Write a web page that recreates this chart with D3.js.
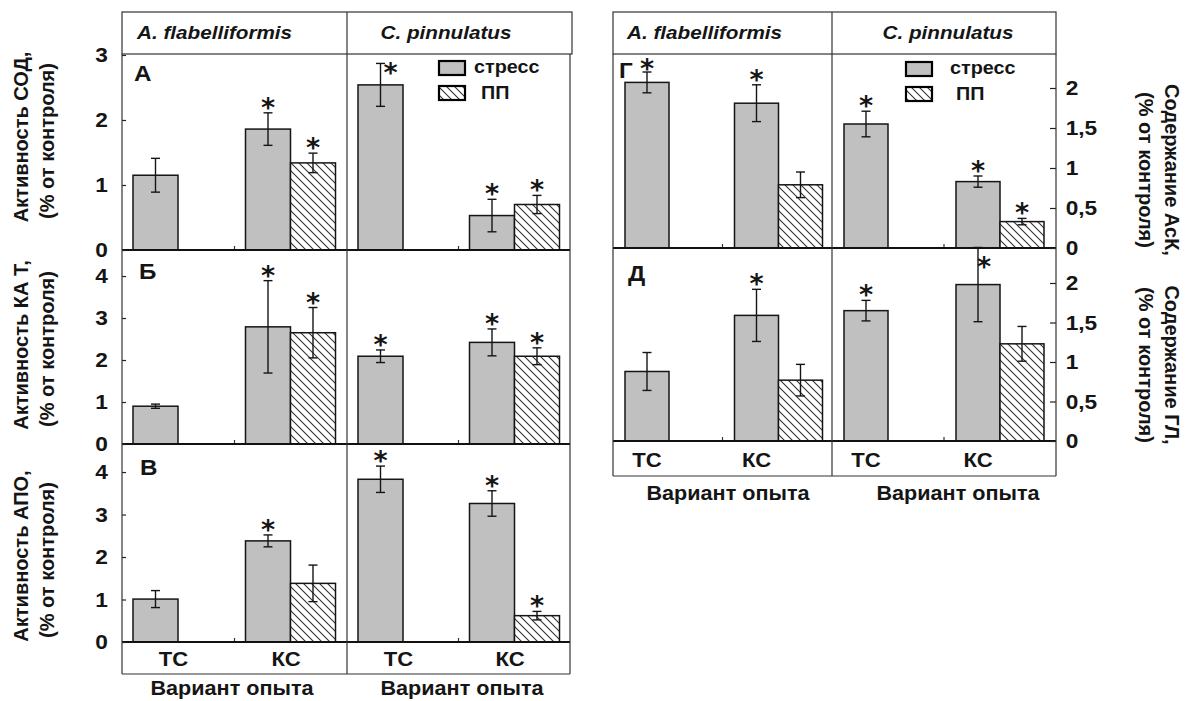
<!DOCTYPE html>
<html><head><meta charset="utf-8">
<script src="https://cdn.jsdelivr.net/npm/d3@7"></script>
<style>body{margin:0;background:#fff} svg{display:block}</style>
</head><body><svg id="c" width="1188" height="701"></svg>
<script>
// ---------------- DATA ----------------
const catLabels = ["ТС", "КС"];
const speciesNames = ["A. flabelliformis", "C. pinnulatus"];
const seriesNames = ["стресс", "ПП"];
const xTitle = "Вариант опыта";
// order of values: [A.fl ТС, A.fl КС, C.pin ТС, C.pin КС]
const sodStress = [1.15, 1.86, 2.54, 0.53];
const sodStressErr = [0.26, 0.25, 0.33, 0.25];
const sodPP = [null, 1.34, null, 0.70];
const sodPPErr = [null, 0.15, null, 0.14];
const sodStressStar = [false, true, true, true];
const sodPPStar = [false, true, false, true];

const catStress = [0.90, 2.79, 2.09, 2.42];
const catStressErr = [0.05, 1.10, 0.15, 0.32];
const catPP = [null, 2.65, null, 2.09];
const catPPErr = [null, 0.60, null, 0.20];
const catStressStar = [false, true, true, true];
const catPPStar = [false, true, false, true];

const apoStress = [1.01, 2.38, 3.83, 3.26];
const apoStressErr = [0.20, 0.14, 0.31, 0.30];
const apoPP = [null, 1.38, null, 0.62];
const apoPPErr = [null, 0.43, null, 0.10];
const apoStressStar = [false, true, true, true];
const apoPPStar = [false, false, false, true];

const askStress = [2.07, 1.81, 1.55, 0.83];
const askStressErr = [0.13, 0.23, 0.16, 0.07];
const askPP = [null, 0.79, null, 0.33];
const askPPErr = [null, 0.16, null, 0.04];
const askStressStar = [true, true, true, true];
const askPPStar = [false, false, false, true];

const glStress = [0.88, 1.59, 1.65, 1.98];
const glStressErr = [0.24, 0.33, 0.13, 0.47];
const glPP = [null, 0.77, null, 1.23];
const glPPErr = [null, 0.20, null, 0.22];
const glStressStar = [false, true, true, true];
const glPPStar = [false, false, false, false];

const ticksSOD = [0, 1, 2, 3];
const ticksCAT = [0, 1, 2, 3, 4];
const ticksAPO = [0, 1, 2, 3, 4];
const ticksRight = [0, 0.5, 1, 1.5, 2];

const titleSOD = ["Активность СОД,", "(% от контроля)"];
const titleCAT = ["Активность КА Т,", "(% от контроля)"];
const titleAPO = ["Активность АПО,", "(% от контроля)"];
const titleASK = ["Содержание АсК,", "(% от контроля)"];
const titleGL = ["Содержание ГЛ,", "(% от контроля)"];
const panelLetters = ["А", "Б", "В", "Г", "Д"];

// ---------------- LAYOUT ----------------
const FONT = "'Liberation Sans', Arial, sans-serif";
const BAR = "#c0c0c0";
const INK = "#151515";

const blocks = [
  {x0:122, xm:347, x1:570, hx1:572, top:12, hdr:54, catTop:642, catBot:674, xTitleY:695,
   inner:[11,101], labelOff:18, sp:[{x:137,a:"start"},{x:446,a:"middle"}], xTitleX:[232,462],
   side:"left"},
  {x0:613, xm:832, x1:1056, hx1:1056, top:12, hdr:54, catTop:441, catBot:476, xTitleY:500,
   inner:[12,100], labelOff:0, sp:[{x:627,a:"start"},{x:948,a:"middle"}], xTitleX:[728,958],
   side:"right"}
];

const panels = [
  {b:0, top:54, bottom:250, max:3.015, ticks:ticksSOD, s:sodStress, se:sodStressErr, p:sodPP, pe:sodPPErr,
   ss:sodStressStar, ps:sodPPStar, title:titleSOD, titleY:137, lx:134, ly:81,
   legend:{x:439, y:61, t1:35, t2:42}, starShift:{2:[10,15]}},
  {b:0, top:250, bottom:444, max:4.62, ticks:ticksCAT, s:catStress, se:catStressErr, p:catPP, pe:catPPErr,
   ss:catStressStar, ps:catPPStar, title:titleCAT, titleY:345, lx:139, ly:279},
  {b:0, top:444, bottom:642, max:4.66, ticks:ticksAPO, s:apoStress, se:apoStressErr, p:apoPP, pe:apoPPErr,
   ss:apoStressStar, ps:apoPPStar, title:titleAPO, titleY:556, lx:140, ly:475},
  {b:1, top:54, bottom:248, max:2.425, ticks:ticksRight, s:askStress, se:askStressErr, p:askPP, pe:askPPErr,
   ss:askStressStar, ps:askPPStar, title:titleASK, titleY:170, lx:619, ly:78,
   legend:{x:906, y:62, t1:44, t2:50}, starShift:{0:[0,2]}},
  {b:1, top:248, bottom:441, max:2.443, ticks:ticksRight, s:glStress, se:glStressErr, p:glPP, pe:glPPErr,
   ss:glStressStar, ps:glPPStar, title:titleGL, titleY:365, lx:628, ly:281, starShift:{3:[6,25]}}
];

// ---------------- DRAW ----------------
const svg = d3.select("#c");
const defs = svg.append("defs");
const pat = defs.append("pattern").attr("id","hatch").attr("patternUnits","userSpaceOnUse")
  .attr("width",8).attr("height",8);
pat.append("rect").attr("width",8).attr("height",8).attr("fill","#fff");
pat.append("path").attr("d","M-2,-2L10,10M-2,6L2,10M6,-2L10,2").attr("stroke","#333").attr("stroke-width",1.1);

function T(sel, x, y, str, o = {}) {
  const sx = o.sx || 1;
  return sel.append("text")
    .attr("transform", `translate(${x},${y})` + (o.rot ? ` rotate(${o.rot})` : "") + (sx !== 1 ? ` scale(${sx},1)` : ""))
    .attr("text-anchor", o.anchor || "start")
    .attr("font-size", o.fs || 18)
    .attr("font-style", o.italic ? "italic" : "normal")
    .attr("font-family", o.ff || FONT)
    .attr("font-weight", "bold")
    .attr("fill", INK)
    .text(str);
}
function L(x1, y1, x2, y2, w = 1.2, c = "#333") {
  svg.append("line").attr("x1",x1).attr("y1",y1).attr("x2",x2).attr("y2",y2)
    .attr("stroke",c).attr("stroke-width",w);
}

const gBars = svg.append("g");

panels.forEach((P, pi) => {
  const B = blocks[P.b];
  const y = d3.scaleLinear().domain([0, P.max]).range([P.bottom, P.top]);
  const inner = d3.scaleBand().domain(seriesNames).range(B.inner).padding(0);
  const bw = inner.bandwidth();
  const subs = [[B.x0, B.xm], [B.xm, B.x1]];
  subs.forEach((r, si) => {
    const xg = d3.scaleBand().domain(catLabels).range(r);
    L(xg("КС"), P.bottom - 4, xg("КС"), P.bottom, 1.2, "#333");
    catLabels.forEach((c, ci) => {
      const idx = si * 2 + ci;
      [[P.s, P.se, P.ss, 0], [P.p, P.pe, P.ps, 1]].forEach(([vals, errs, stars, k]) => {
        const v = vals[idx];
        if (v == null) return;
        const x = xg(c) + inner(seriesNames[k]);
        gBars.append("rect").attr("x", x).attr("y", y(v)).attr("width", bw).attr("height", y(0) - y(v))
          .attr("fill", k === 0 ? BAR : "url(#hatch)").attr("stroke", INK).attr("stroke-width", 1.5);
        const cx = x + bw / 2, e = errs[idx];
        const yt = y(v + e), yb = y(v - e);
        gBars.append("line").attr("x1",cx).attr("x2",cx).attr("y1",yt).attr("y2",yb).attr("stroke",INK).attr("stroke-width",1.4);
        [yt, yb].forEach(yy => gBars.append("line").attr("x1",cx-4.5).attr("x2",cx+4.5).attr("y1",yy).attr("y2",yy)
          .attr("stroke",INK).attr("stroke-width",1.4));
        if (stars[idx]) {
          let sh = [0, 0];
          if (k === 0 && P.starShift && P.starShift[idx]) sh = P.starShift[idx];
          const cy = yt - 10 + sh[1];
          T(gBars, cx + sh[0], cy + 14, "*", {anchor:"middle", fs:27, ff:"'DejaVu Sans', sans-serif"});
        }
      });
    });
  });
  L(B.x0, P.bottom, B.x1, P.bottom, 2.2, "#111");
  const ax = B.side === "left"
    ? d3.axisLeft(y).tickValues(P.ticks).tickSize(-4).tickSizeOuter(0).tickPadding(13).tickFormat(d => String(d))
    : d3.axisRight(y).tickValues(P.ticks).tickSize(-6).tickSizeOuter(0).tickPadding(9)
        .tickFormat(d => String(d).replace(".", ","));
  const ga = svg.append("g").attr("transform", `translate(${B.side === "left" ? B.x0 : B.x1},0)`).call(ax);
  ga.select(".domain").remove();
  ga.selectAll(".tick line").attr("stroke", "#222").attr("stroke-width", 1.2);
  ga.selectAll(".tick text").attr("font-family", FONT).attr("font-weight", "bold").attr("font-size", 21)
    .attr("fill", INK).attr("transform", "scale(1.08,1)");
  T(svg, P.lx, P.ly, panelLetters[pi], {fs:22, sx:1.1});
  if (B.side === "left") {
    T(svg, 28, P.titleY, P.title[0], {rot:-90, anchor:"middle", fs:20});
    T(svg, 54, P.titleY + 4, P.title[1], {rot:-90, anchor:"middle", fs:20});
  } else {
    T(svg, 1165, P.titleY, P.title[0], {rot:90, anchor:"middle", fs:20});
    T(svg, 1139, P.titleY, P.title[1], {rot:90, anchor:"middle", fs:20});
  }
  if (P.legend) {
    const lg = P.legend;
    svg.append("rect").attr("x", lg.x).attr("y", lg.y).attr("width", 26).attr("height", 14)
      .attr("fill", BAR).attr("stroke", "#000").attr("stroke-width", 2.2);
    svg.append("rect").attr("x", lg.x).attr("y", lg.y + 25).attr("width", 26).attr("height", 14)
      .attr("fill", "url(#hatch)").attr("stroke", "#000").attr("stroke-width", 2.2);
    T(svg, lg.x + lg.t1, lg.y + 12, seriesNames[0], {fs:18, sx:1.1});
    T(svg, lg.x + lg.t2, lg.y + 38, seriesNames[1], {fs:18, sx:1.1});
  }
});

blocks.forEach((B) => {
  svg.append("rect").attr("x", B.x0).attr("y", B.top).attr("width", B.hx1 - B.x0).attr("height", B.hdr - B.top)
    .attr("fill", "none").attr("stroke", "#333").attr("stroke-width", 1.2);
  speciesNames.forEach((s, si) => {
    T(svg, B.sp[si].x, B.top + 27, s, {italic:true, fs:18, sx:1.15, anchor:B.sp[si].a});
  });
  L(B.x0, B.hdr, B.x0, B.catBot);
  L(B.x1, B.hdr, B.x1, B.catBot);
  L(B.xm, B.top, B.xm, B.catBot);
  L(B.x0, B.catBot, B.x1, B.catBot);
  const inner = d3.scaleBand().domain(seriesNames).range(B.inner).padding(0);
  [[B.x0, B.xm], [B.xm, B.x1]].forEach((r, si) => {
    const xg = d3.scaleBand().domain(catLabels).range(r);
    catLabels.forEach(c => {
      T(svg, xg(c) + inner("стресс") + inner.bandwidth() / 2 + B.labelOff, (B.catTop + B.catBot) / 2 + 8, c,
        {anchor:"middle", fs:21, sx:1.05});
    });
    T(svg, B.xTitleX[si], B.xTitleY, xTitle, {anchor:"middle", fs:21, sx:1.03});
  });
});
</script></body></html>
